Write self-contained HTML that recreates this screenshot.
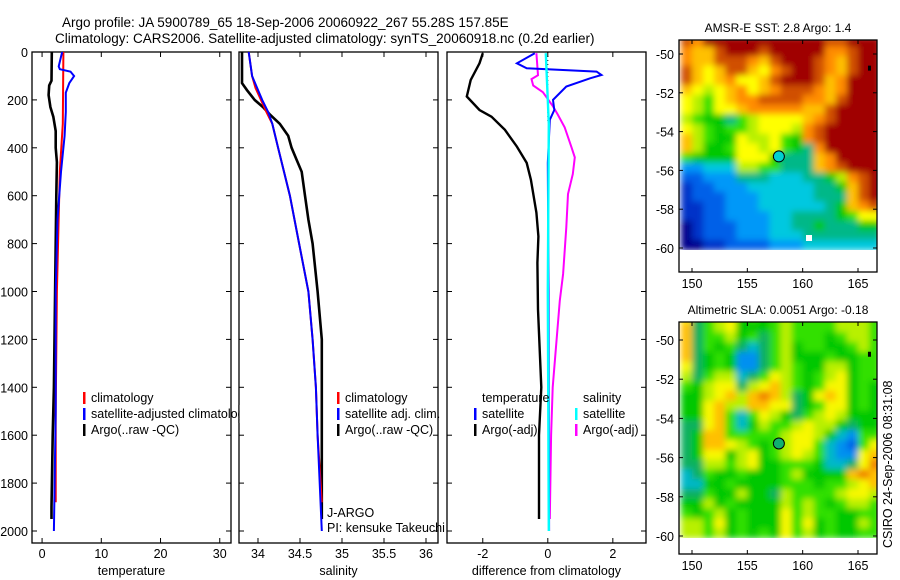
<!DOCTYPE html>
<html><head><meta charset="utf-8">
<style>
html,body{margin:0;padding:0;background:#fff;}
svg{display:block;font-family:"Liberation Sans",sans-serif;}
text{fill:#000;}
</style></head>
<body>
<svg id="fig" width="900" height="580" viewBox="0 0 900 580">
<defs>
<filter id="smooth" x="-5%" y="-5%" width="110%" height="110%">
<feGaussianBlur stdDeviation="3.2" edgeMode="duplicate"/>
</filter>
</defs>
<text x="62" y="27" font-size="13.5">Argo profile: JA 5900789_65 18-Sep-2006 20060922_267 55.28S 157.85E</text>
<text x="55" y="43" font-size="13.5">Climatology: CARS2006. Satellite-adjusted climatology: synTS_20060918.nc (0.2d earlier)</text>
<g id="plots"></g>
<text x="0" y="0" font-size="12.5" transform="translate(892,548) rotate(-90)">CSIRO 24-Sep-2006 08:31:08</text>
</svg>
<script>
// ---------------- data ----------------
const tempClimDepth = [0,300,500,1000,1500,1880];
const tempClimVal   = [3.6,3.5,3.0,2.5,2.3,2.3];
const tempSatDepth  = [0,20,60,72,82,100,130,170,250,350,500,700,1000,1500,2000];
const tempSatVal    = [3.4,3.2,2.8,3.0,4.8,5.4,4.6,4.0,4.0,3.8,3.2,2.6,2.3,2.3,2.0];
const tempArgoDepth = [0,120,140,180,230,270,330,400,460,600,1000,1400,1600,1900,1950];
const tempArgoVal   = [1.65,1.6,1.2,1.1,1.4,1.9,2.3,2.3,2.5,2.4,2.2,2.0,1.8,1.6,1.6];

const salClimDepth = [0,100,150,250,300,400,500,600,800,1000,1200,1400,1600,1880];
const salClimVal   = [33.89,33.93,33.97,34.10,34.17,34.24,34.31,34.38,34.49,34.60,34.65,34.69,34.71,34.76];
const salSatDepth  = [0,100,150,200,250,300,400,500,600,800,1000,1200,1400,1600,2000];
const salSatVal    = [33.89,33.93,33.99,34.05,34.12,34.17,34.24,34.31,34.38,34.49,34.60,34.65,34.69,34.71,34.76];
const salArgoDepth = [0,130,160,200,230,260,300,350,400,450,500,600,700,800,1000,1200,1500,1950];
const salArgoVal   = [33.81,33.81,33.87,33.96,34.06,34.14,34.26,34.36,34.40,34.46,34.52,34.56,34.60,34.65,34.71,34.76,34.76,34.76];

const dTempArgoDepth = [5,47,117,186,242,270,325,395,463,533,671,770,880,1075,1400,1600,1950];
const dTempArgoVal   = [-2.0,-2.1,-2.37,-2.49,-2.1,-1.73,-1.32,-0.95,-0.65,-0.52,-0.35,-0.29,-0.32,-0.30,-0.2,-0.27,-0.27];
const dTempSatDepth  = [5,47,68,82,96,110,144,200,242,283,463,1000,1500,2000];
const dTempSatVal    = [-0.4,-0.95,-0.65,1.5,1.65,1.3,0.57,0.16,0.2,0.06,0,0.02,0.03,0.04];
const dSalArgoDepth  = [5,97,113,140,168,225,260,315,398,440,510,593,732,927,1038,1400,1600,1950];
const dSalArgoVal    = [-0.35,-0.3,-0.5,-0.45,-0.15,0.15,0.3,0.52,0.73,0.83,0.77,0.62,0.57,0.47,0.37,0.15,0.1,0.06];
const dSalSatDepth   = [5,300,1000,2000];
const dSalSatVal     = [-0.06,0.03,0.0,0.03];

const depthTicks = [0,200,400,600,800,1000,1200,1400,1600,1800,2000];
const tempTicks = [0,10,20,30];
const salTicks = [34,34.5,35,35.5,36];
const salTickLabels = ["34","34.5","35","35.5","36"];
const diffTicks = [-2,0,2];
const diffTickLabels = ["-2","0","2"];

const lonTicks = [150,155,160,165];
const latTicks = [-50,-52,-54,-56,-58,-60];
const sstRows = [
"CBDDDDDDDDDDDCCDDD","BAACDDDCDDDDDBBCDD","BAACCCBACDDDCBACDD","CA9ACCA9BCDDCBACDD",
"CA9AB99ACDDDCABDDD","A989AB9ABCCCBABDDD","9879ABBCCCCBBACDDD","98799ABBBBBAACDDDD",
"87665789999ABCDDDD","98767789998BCDDDDD","A8766988976BCDDDDD","A86679989765BDDDDD",
"766669996555ABDDDD","334448877555ABCDDD","223335554445568BCD","122333444444556ACD",
"122233344444555ACD","112233344444456ABC","112233334455556799","012223334455655566",
"012223334445555555","001122223334444444"];
const slaRows = [
"957896767877778887","A57896667877778887","A57786757877767887","A57675457867766787",
"A56763357866676677","956763357876688677","857884579876789677","76899589A876799676",
"6689A8ABA8569A9676","669A88AA9956799676","669A74798657898666","559A74687789886566",
"56AA77777899864377","56AA98767899743279","56996896789874339A","55887896677764459B",
"457667666786666ABA","44667666677767789A","557668665877778998","668676666878767887",
"767867666978776677","887967666979676687","887867676978676677"];
const floatLon = 157.85, floatLat = -55.28;

// ---------------- drawing ----------------
const NS = "http://www.w3.org/2000/svg";
const root = document.getElementById('plots');
function mk(tag, attrs, parent){
  const e = document.createElementNS(NS, tag);
  for (const k in attrs) e.setAttribute(k, attrs[k]);
  (parent||root).appendChild(e); return e;
}
const PT = 52, PB = 543;
function yD(d){ return PT + d*0.2395; }
function makeX(left,right,vmin,vmax){ return v => left + (v-vmin)/(vmax-vmin)*(right-left); }

const panels = [
 {l:32,r:231,x:makeX(32,231,-1.7,31.9),ticks:tempTicks,labels:tempTicks.map(String),xl:"temperature",name:"temperature"},
 {l:239,r:438,x:makeX(239,438,33.774,36.143),ticks:salTicks,labels:salTickLabels,xl:"salinity",name:"salinity"},
 {l:447,r:646,x:makeX(447,646,-3.1,3.02),ticks:diffTicks,labels:diffTickLabels,xl:"difference from climatology",name:"difference"}
];

function line(p, depths, vals, color, w, name){
  let d = "";
  for (let i=0;i<depths.length;i++){
    d += (i?"L":"M") + p.x(vals[i]).toFixed(1) + "," + yD(depths[i]).toFixed(1);
  }
  const e = mk('path',{d:d,fill:"none",stroke:color,"stroke-width":w,"stroke-linejoin":"miter"});
  
  
}

panels.forEach((p,pi)=>{
  const g = mk('g',{});
  
  
  const bg = mk('rect',{x:p.l,y:PT,width:p.r-p.l,height:PB-PT,fill:"#fff",stroke:"#000","stroke-width":1.3},g);
  
  
  depthTicks.forEach(dv=>{
    const y = yD(dv);
    mk('line',{x1:p.l,x2:p.l+5,y1:y,y2:y,stroke:"#000"},g);
    mk('line',{x1:p.r-5,x2:p.r,y1:y,y2:y,stroke:"#000"},g);
    if (pi===0){
      const t = mk('text',{x:28,y:y+5,"font-size":12.5,"text-anchor":"end"},g);
      t.textContent = dv;
      
      
    }
  });
  p.ticks.forEach((tv,i)=>{
    const x = p.x(tv);
    mk('line',{x1:x,x2:x,y1:PB,y2:PB-5,stroke:"#000"},g);
    mk('line',{x1:x,x2:x,y1:PT,y2:PT+5,stroke:"#000"},g);
    const t = mk('text',{x:x,y:PB+15,"font-size":12.5,"text-anchor":"middle"},g);
    t.textContent = p.labels[i];
    
    
  });
  const xl = mk('text',{x:(p.l+p.r)/2,y:PB+32,"font-size":12.5,"text-anchor":"middle"},g);
  xl.textContent = p.xl;
  
  
});

const P0=panels[0],P1=panels[1],P2=panels[2];
line(P0,tempArgoDepth,tempArgoVal,"#000",2.6,"temp-argo-line");
line(P0,tempClimDepth,tempClimVal,"#f00",2,"temp-climatology-line");
line(P0,tempSatDepth,tempSatVal,"#00f",2,"temp-satellite-line");
line(P1,salArgoDepth,salArgoVal,"#000",2.6,"sal-argo-line");
line(P1,salClimDepth,salClimVal,"#f00",2,"sal-climatology-line");
line(P1,salSatDepth,salSatVal,"#00f",2,"sal-satellite-line");
const zl = mk('line',{x1:P2.x(0),x2:P2.x(0),y1:yD(0),y2:yD(300),stroke:"#000","stroke-width":1,"stroke-dasharray":"1,3"});


line(P2,dTempArgoDepth,dTempArgoVal,"#000",2.4,"diff-temp-argo-line");
line(P2,dSalArgoDepth,dSalArgoVal,"#f0f",2,"diff-sal-argo-line");
line(P2,dTempSatDepth,dTempSatVal,"#00f",2,"diff-temp-satellite-line");
line(P2,dSalSatDepth,dSalSatVal,"#0ff",2.4,"diff-sal-satellite-line");

function legend(x,y,color,label,name){
  if (color){
    const b = mk('rect',{x:x-8,y:y-10,width:2.5,height:12,fill:color});
    
    
  }
  const t = mk('text',{x:x,y:y,"font-size":12.5});
  t.textContent = label;
  
  
}
legend(91,402,"#f00","climatology","legend-temp-climatology");
legend(91,418,"#00f","satellite-adjusted climatology","legend-temp-satellite");
legend(91,434,"#000","Argo(..raw -QC)","legend-temp-argo");
legend(345,402,"#f00","climatology","legend-sal-climatology");
legend(345,418,"#00f","satellite adj. clim.","legend-sal-satellite");
legend(345,434,"#000","Argo(..raw -QC)","legend-sal-argo");
legend(482,402,null,"temperature","legend-diff-temperature-header");
legend(482,418,"#00f","satellite","legend-diff-temp-satellite");
legend(482,434,"#000","Argo(-adj)","legend-diff-temp-argo");
legend(583,402,null,"salinity","legend-diff-salinity-header");
legend(583,418,"#0ff","satellite","legend-diff-sal-satellite");
legend(583,434,"#f0f","Argo(-adj)","legend-diff-sal-argo");
legend(327,517,null,"J-ARGO","agency-label");
legend(327,532,null,"PI: kensuke Takeuchi","pi-label");
const mask = mk('rect',{x:238.4,y:405,width:1.2,height:18,fill:"#000"});


const cover = mk('rect',{x:239.6,y:405,width:30,height:18,fill:"#fff"});



// ---------------- maps ----------------
const sstCmap = {"0":"#00008c","1":"#0030c8","2":"#0060e8","3":"#0098f8","4":"#00c8e0","5":"#00b888",
 "6":"#00c800","7":"#30e000","8":"#b8f000","9":"#ffff00","A":"#ffc000","B":"#ff8c00","C":"#d05000","D":"#a00000"};
const slaCmap = {"0":"#00008c","1":"#0030c8","2":"#0060e8","3":"#0090f0","4":"#00b8c8","5":"#10b060",
 "6":"#00c800","7":"#30e000","8":"#b8f000","9":"#f8f800","A":"#ffc000","B":"#f08000","C":"#d05000","D":"#a00000"};
function drawMap(top, lat50y, lat60y, rows, rowTopLat, cmap, title, circleFill, name){
  const L=679,R=877,B=top+232;
  const lx = lon => 692 + (lon-150)*(858-692)/15;
  const ly = lat => lat50y + (-50-lat)*(lat60y-lat50y)/10;
  const g = mk('g',{});
  
  
  const cid = name + '-clip';
  const cp = mk('clipPath',{id:cid},g);
  mk('rect',{x:L,y:top,width:R-L,height:ly(-60.1)-top},cp);
  const clipG = mk('g',{"clip-path":"url(#"+cid+")"},g);
  const cells = mk('g',{filter:"url(#smooth)"},clipG);
  rows.forEach((row,ri)=>{
    const latA = rowTopLat - ri*0.5, latB = latA-0.5;
    for (let ci=0;ci<row.length;ci++){
      const lonA = 149 + ci, lonB = lonA+1;
      const c = mk('rect',{x:lx(lonA),y:ly(latA),width:lx(lonB)-lx(lonA)+0.5,height:ly(latB)-ly(latA)+0.5,fill:cmap[row[ci]]},cells);
      
      
    }
  });
  const fr = mk('rect',{x:L,y:top,width:R-L,height:B-top,fill:"none",stroke:"#000","stroke-width":1.3},g);
  
  
  lonTicks.forEach(lo=>{
    const x = lx(lo);
    mk('line',{x1:x,x2:x,y1:top,y2:top+4,stroke:"#000"},g);
    mk('line',{x1:x,x2:x,y1:B,y2:B-4,stroke:"#000"},g);
    const t = mk('text',{x:x,y:B+16,"font-size":12.5,"text-anchor":"middle"},g);
    t.textContent = lo;
    
    
  });
  latTicks.forEach(la=>{
    const y = ly(la);
    mk('line',{x1:L,x2:L+4,y1:y,y2:y,stroke:"#000"},g);
    mk('line',{x1:R-4,x2:R,y1:y,y2:y,stroke:"#000"},g);
    const t = mk('text',{x:L-5,y:y+5,"font-size":12.5,"text-anchor":"end"},g);
    t.textContent = la;
    
    
  });
  const tt = mk('text',{x:(L+R)/2,y:top-8,"font-size":12,"text-anchor":"middle"},g);
  tt.textContent = title;
  
  
  const isl = mk('rect',{x:lx(165.9),y:ly(-50.6),width:3,height:5,fill:"#000"},g);
  
  
  const c = mk('circle',{cx:lx(floatLon),cy:ly(floatLat),r:5.5,fill:circleFill,stroke:"#000","stroke-width":1},g);
  
  
}
drawMap(40, 54, 248, sstRows, -49.1, sstCmap, "AMSR-E SST: 2.8 Argo: 1.4", "#00d0d0", "sst-map");
drawMap(322, 340, 536, slaRows, -48.6, slaCmap, "Altimetric SLA: 0.0051  Argo: -0.18", "#10b070", "sla-map");
const wp = mk('rect',{x:806,y:235,width:6,height:6,fill:"#fff"});


</script>
</body></html>
